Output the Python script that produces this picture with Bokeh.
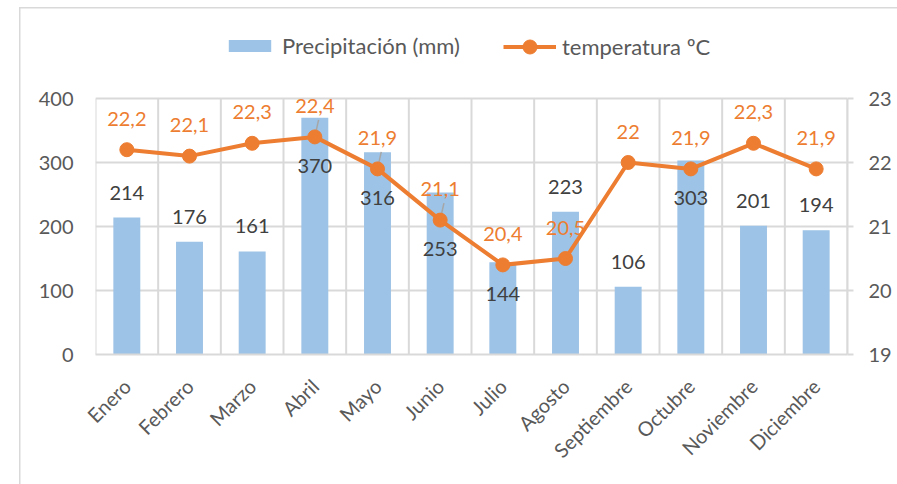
import math
import numpy as np
from bokeh.plotting import figure
from bokeh.models import (ColumnDataSource, Range1d, LinearAxis, FixedTicker, LabelSet,
                          Legend, LegendItem)
from bokeh.core.properties import value
from bokeh.embed import file_html
from bokeh.resources import INLINE

months = ["Enero", "Febrero", "Marzo", "Abril", "Mayo", "Junio", "Julio",
          "Agosto", "Septiembre", "Octubre", "Noviembre", "Diciembre"]
precip = [214, 176, 161, 370, 316, 253, 144, 223, 106, 303, 201, 194]
temp = [22.2, 22.1, 22.3, 22.4, 21.9, 21.1, 20.4, 20.5, 22.0, 21.9, 22.3, 21.9]
precip_ticks = [0, 100, 200, 300, 400]
temp_ticks = [19, 20, 21, 22, 23]

FONT = "Lato"
GRID = "#d9d9d9"
TXT = "#595959"
BLUE = "#9DC3E6"
ORANGE = "#ED7D31"

n = len(months)
x = np.arange(n)
p_lo, p_hi = precip_ticks[0], precip_ticks[-1]
t_lo, t_hi = temp_ticks[0], temp_ticks[-1]

# plot area: 256 px of data plus 78 px of headroom (holds the legend)
DATA_H = 256.0
HEAD = 78.0
scale = (DATA_H + HEAD) / DATA_H

p = figure(width=897, height=484, x_range=Range1d(-0.5, n - 0.5),
           y_range=Range1d(p_lo, p_lo + (p_hi - p_lo) * scale),
           output_backend="svg", toolbar_location=None,
           min_border_left=95, min_border_right=50, min_border_top=20,
           min_border_bottom=130)
p.extra_y_ranges = {"temp": Range1d(t_lo, t_lo + (t_hi - t_lo) * scale)}
p.outline_line_color = None
p.border_fill_alpha = 0
p.styles = {"background": "linear-gradient(#d9d9d9,#d9d9d9) 19px 7px / 1.5px 100% no-repeat, "
                          "linear-gradient(#d9d9d9,#d9d9d9) 19px 7px / 100% 1.5px no-repeat, white"}

# grids
p.xgrid.visible = False
p.ygrid.ticker = FixedTicker(ticks=precip_ticks)
p.ygrid.grid_line_color = GRID
p.ygrid.grid_line_width = 2
edges = [float(i) - 0.5 for i in range(n + 1)]
p.segment(x0=edges, x1=edges, y0=[p_lo] * len(edges), y1=[p_hi] * len(edges),
          line_color=GRID, line_width=2)

# left axis
ya = p.yaxis[0]
ya.ticker = FixedTicker(ticks=precip_ticks)
ya.major_tick_out = 0
ya.major_tick_in = 0
ya.minor_tick_out = 0
ya.minor_tick_in = 0
ya.axis_line_color = None
ya.major_label_standoff = 22
ya.major_label_text_font = FONT
ya.major_label_text_font_size = "20px"
ya.major_label_text_color = TXT

# bottom axis
xa = p.xaxis[0]
xa.ticker = FixedTicker(ticks=list(x))
xa.major_label_overrides = {int(i): m for i, m in zip(x, months)}
xa.major_tick_out = 0
xa.major_tick_in = 0
xa.minor_tick_out = 0
xa.minor_tick_in = 0
xa.axis_line_color = GRID
xa.axis_line_width = 2
xa.major_label_orientation = math.pi / 4
xa.major_label_standoff = 28
xa.major_label_text_font = FONT
xa.major_label_text_font_size = "20px"
xa.major_label_text_color = TXT

# right axis
ra = LinearAxis(y_range_name="temp", ticker=FixedTicker(ticks=temp_ticks),
                bounds=(t_lo, t_hi))
ra.axis_line_color = GRID
ra.axis_line_width = 2
ra.major_tick_out = 6
ra.major_tick_in = 0
ra.major_tick_line_color = GRID
ra.major_tick_line_width = 2
ra.minor_tick_out = 0
ra.minor_tick_in = 0
ra.major_label_standoff = 15
ra.major_label_text_font = FONT
ra.major_label_text_font_size = "20px"
ra.major_label_text_color = TXT
p.add_layout(ra, "right")

src = ColumnDataSource(dict(x=x, precip=precip, temp=temp,
                            tlab=[f"{t:g}".replace(".", ",") for t in temp],
                            plab=[str(v) for v in precip]))

bars = p.vbar(x="x", top="precip", width=0.43, source=src, fill_color=BLUE,
              line_color=None)

# bar labels: above bar unless the temperature point sits near the bar top
def px_p(v):
    return (v - p_lo) / (p_hi - p_lo) * DATA_H
def px_t(v):
    return (v - t_lo) / (t_hi - t_lo) * DATA_H

above = dict(x=[], y=[], t=[])
below = dict(x=[], y=[], t=[])
lead = dict(x0=[], y0=[], x1=[], y1=[])
for i in range(n):
    d = px_p(precip[i]) - px_t(temp[i])
    if abs(d) < 40:
        below["x"].append(i); below["y"].append(temp[i]); below["t"].append(str(precip[i]))
        if d > 10:
            lead["x0"].append(i); lead["y0"].append(temp[i])
            lead["x1"].append(i + 0.06)
            lead["y1"].append(temp[i] + 17 / DATA_H * (t_hi - t_lo))
    else:
        above["x"].append(i); above["y"].append(precip[i]); above["t"].append(str(precip[i]))

p.segment("x0", "y0", "x1", "y1", source=ColumnDataSource(lead), y_range_name="temp",
          line_color="#a6a6a6", line_width=1.5)

line = p.line("x", "temp", source=src, y_range_name="temp", line_color=ORANGE,
              line_width=4)
dots = p.scatter("x", "temp", source=src, y_range_name="temp", size=14,
                 fill_color=ORANGE, line_color=ORANGE)

common = dict(text_font=value(FONT), text_font_size=value("20px"), text_align="center",
              text_baseline="middle")
p.add_layout(LabelSet(x="x", y="y", text="t", source=ColumnDataSource(above),
                      y_offset=25, text_color="#404040", **common))
p.add_layout(LabelSet(x="x", y="y", text="t", source=ColumnDataSource(below),
                      y_range_name="temp", y_offset=-29, text_color="#404040", **common))
p.add_layout(LabelSet(x="x", y="temp", text="tlab", source=src, y_range_name="temp",
                      y_offset=31, text_color=ORANGE, **common))

leg_style = dict(orientation="horizontal", label_text_font=FONT,
                 label_text_font_size="22px", label_text_color=TXT,
                 border_line_color=None, background_fill_alpha=0, padding=0,
                 margin=0, label_standoff=6, glyph_width=53)
leg1 = Legend(items=[LegendItem(label="Precipitación (mm)", renderers=[bars])],
              location=(128, 295), glyph_height=15, **leg_style)
leg2 = Legend(items=[LegendItem(label="temperatura ºC", renderers=[line, dots])],
              location=(408, 290), glyph_height=35, **leg_style)
p.add_layout(leg1, "center")
p.add_layout(leg2, "center")

open("out.html", "w").write(file_html(p, INLINE))
